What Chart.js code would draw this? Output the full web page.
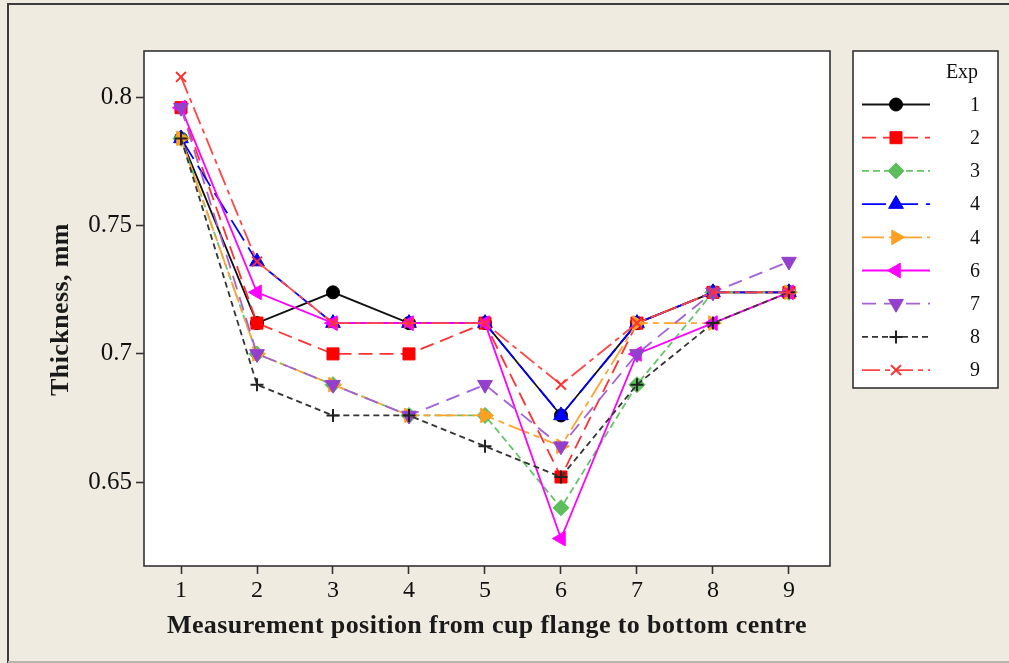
<!DOCTYPE html>
<html>
<head>
<meta charset="utf-8">
<title>Thickness by measurement position</title>
<script src="https://cdn.jsdelivr.net/npm/chart.js@4.4.1/dist/chart.umd.min.js"></script>
<style>
  html, body { margin: 0; padding: 0; background: #EFEBE1; }
  canvas { display: block; }
</style>
</head>
<body>
<canvas id="chart" width="1009" height="663"></canvas>
<script>
// Measurement positions (flange -> bottom centre)
const positions = [1, 2, 3, 4, 5, 6, 7, 8, 9];

// Y axis ticks and their printed labels
const yTickValues = [0.65, 0.70, 0.75, 0.80];
const yTickLabels = ['0.65', '0.7', '0.75', '0.8'];

// Legend labels of the experiments
const expLabels = ['1', '2', '3', '4', '4', '6', '7', '8', '9'];

// Wall thickness (mm) per experiment
const exp1  = [0.784, 0.712, 0.724, 0.712, 0.712, 0.676, 0.712, 0.724, 0.724];
const exp2  = [0.796, 0.712, 0.700, 0.700, 0.712, 0.652, 0.712, 0.724, 0.724];
const exp3  = [0.784, 0.700, 0.688, 0.676, 0.676, 0.640, 0.688, 0.724, 0.724];
const exp4a = [0.784, 0.736, 0.712, 0.712, 0.712, 0.676, 0.712, 0.724, 0.724];
const exp4b = [0.784, 0.700, 0.688, 0.676, 0.676, 0.664, 0.712, 0.712, 0.724];
const exp6  = [0.796, 0.724, 0.712, 0.712, 0.712, 0.628, 0.700, 0.712, 0.724];
const exp7  = [0.796, 0.700, 0.688, 0.676, 0.688, 0.664, 0.700, 0.724, 0.736];
const exp8  = [0.784, 0.688, 0.676, 0.676, 0.664, 0.652, 0.688, 0.712, 0.724];
const exp9  = [0.808, 0.736, 0.712, 0.712, 0.712, 0.688, 0.712, 0.724, 0.724];

const seriesValues = [exp1, exp2, exp3, exp4a, exp4b, exp6, exp7, exp8, exp9];

// Line / symbol style of each experiment
const seriesStyles = [
  { line: '#111111', fill: '#000000', dash: [],            point: 'circle',   radius: 6.5, rotation: 0 },
  { line: '#FF3030', fill: '#FF0000', dash: [14, 7],       point: 'rect',     radius: 8.5, rotation: 0 },
  { line: '#66C466', fill: '#5CBF5C', dash: [7, 4],        point: 'rectRot',  radius: 8,   rotation: 0 },
  { line: '#0000FF', fill: '#0000FF', dash: [24, 8],       point: 'triangle', radius: 8.5, rotation: 0 },
  { line: '#FFA431', fill: '#FFA020', dash: [22, 5, 6, 5], point: 'triangle', radius: 8.5, rotation: 90 },
  { line: '#FF00FF', fill: '#FF00FF', dash: [],            point: 'triangle', radius: 8.5, rotation: 270 },
  { line: '#A461D6', fill: '#9440CC', dash: [14, 8],       point: 'triangle', radius: 8.5, rotation: 180 },
  { line: '#333333', fill: '#222222', dash: [6, 4],        point: 'cross',    radius: 6.5, rotation: 0 },
  { line: '#FF4545', fill: '#FF3030', dash: [18, 5, 5, 5], point: 'crossRot', radius: 7,   rotation: 0 }
];

const datasets = seriesValues.map((vals, i) => {
  const s = seriesStyles[i];
  const isCross = s.point === 'cross' || s.point === 'crossRot';
  return {
    label: expLabels[i],
    data: vals.map((v, k) => ({ x: positions[k], y: v })),
    borderColor: s.line,
    borderWidth: 1.8,
    borderDash: s.dash,
    backgroundColor: s.fill,
    pointStyle: s.point,
    pointRadius: s.radius,
    pointRotation: s.rotation,
    pointBackgroundColor: s.fill,
    pointBorderColor: s.fill,
    pointBorderWidth: isCross ? 2 : 1,
    fill: false,
    tension: 0,
    order: seriesValues.length - 1 - i   // later experiments drawn on top
  };
});

const serif = '"Liberation Serif", "Times New Roman", serif';
const FRAME = '#333333';

// Backgrounds, outer frame, plot border, custom legend and axis titles
const decorations = {
  id: 'decorations',
  beforeDraw(chart) {
    const { ctx, chartArea: a, width, height } = chart;
    ctx.save();
    ctx.fillStyle = '#EFEBE1';
    ctx.fillRect(0, 0, width, height);
    ctx.fillStyle = '#FFFFFF';
    ctx.fillRect(a.left, a.top, a.right - a.left, a.bottom - a.top);
    // outer frame
    ctx.strokeStyle = '#3C3C3C';
    ctx.lineWidth = 2;
    ctx.beginPath();
    ctx.moveTo(8, height);
    ctx.lineTo(8, 4);
    ctx.lineTo(width, 4);
    ctx.stroke();
    ctx.strokeStyle = '#B9B5AD';
    ctx.beginPath();
    ctx.moveTo(8, 662);
    ctx.lineTo(width, 662);
    ctx.stroke();
    ctx.restore();
  },
  afterDraw(chart) {
    const { ctx, chartArea: a } = chart;
    ctx.save();
    // plot border
    ctx.strokeStyle = FRAME;
    ctx.lineWidth = 1.6;
    ctx.strokeRect(a.left, a.top, a.right - a.left, a.bottom - a.top);

    // axis titles
    ctx.fillStyle = '#1A1A1A';
    ctx.font = 'bold 26px ' + serif;
    if ('letterSpacing' in ctx) ctx.letterSpacing = '0.4px';
    ctx.textAlign = 'center';
    ctx.textBaseline = 'alphabetic';
    ctx.fillText('Measurement position from cup flange to bottom centre', (a.left + a.right) / 2, 633);
    ctx.save();
    ctx.translate(68, (a.top + a.bottom) / 2 + 1);
    ctx.rotate(-Math.PI / 2);
    ctx.fillText('Thickness, mm', 0, 0);
    ctx.restore();
    if ('letterSpacing' in ctx) ctx.letterSpacing = '0px';

    // legend box
    const L = { left: 853, top: 51, right: 998, bottom: 388 };
    ctx.fillStyle = '#FFFFFF';
    ctx.fillRect(L.left, L.top, L.right - L.left, L.bottom - L.top);
    ctx.strokeStyle = FRAME;
    ctx.lineWidth = 1.6;
    ctx.strokeRect(L.left, L.top, L.right - L.left, L.bottom - L.top);

    ctx.fillStyle = '#111111';
    ctx.font = '20px ' + serif;
    ctx.textAlign = 'center';
    ctx.textBaseline = 'middle';
    ctx.fillText('Exp', 962, 73);

    chart.data.datasets.forEach((ds, i) => {
      const y = 104.5 + i * 33.2;
      ctx.save();
      ctx.strokeStyle = ds.borderColor;
      ctx.lineWidth = ds.borderWidth;
      ctx.setLineDash(ds.borderDash);
      ctx.beginPath();
      ctx.moveTo(862, y);
      ctx.lineTo(930, y);
      ctx.stroke();
      ctx.setLineDash([]);
      ctx.fillStyle = ds.pointBackgroundColor;
      ctx.strokeStyle = ds.pointBorderColor;
      ctx.lineWidth = ds.pointBorderWidth;
      Chart.helpers.drawPoint(ctx, {
        pointStyle: ds.pointStyle,
        rotation: ds.pointRotation,
        radius: ds.pointRadius,
        borderWidth: ds.pointBorderWidth
      }, 896, y);
      ctx.restore();
      ctx.fillStyle = '#111111';
      ctx.font = '20px ' + serif;
      ctx.textAlign = 'center';
      ctx.textBaseline = 'middle';
      ctx.fillText(ds.label, 975, y + 1);
    });
    ctx.restore();
  }
};

new Chart(document.getElementById('chart'), {
  type: 'line',
  data: { datasets },
  options: {
    responsive: false,
    animation: false,
    devicePixelRatio: 1,
    layout: { padding: { left: 20, top: 51, right: 179, bottom: 0 } },
    plugins: {
      legend: { display: false },
      tooltip: { enabled: false },
      title: { display: false }
    },
    scales: {
      x: {
        type: 'linear',
        min: 0.513,
        max: 9.54,
        afterBuildTicks(scale) { scale.ticks = positions.map(v => ({ value: v })); },
        afterFit(scale) { scale.height = 97; },
        border: { display: false },
        grid: { drawOnChartArea: false, drawTicks: true, tickLength: 8, tickWidth: 1.6, tickColor: FRAME },
        ticks: {
          autoSkip: false,
          maxRotation: 0,
          padding: 2,
          color: '#111111',
          font: { family: serif, size: 24 },
          callback: v => String(v)
        }
      },
      y: {
        type: 'linear',
        min: 0.6173,
        max: 0.8181,
        afterBuildTicks(scale) { scale.ticks = yTickValues.map(v => ({ value: v })); },
        afterFit(scale) { scale.width = 124; },
        border: { display: false },
        grid: { drawOnChartArea: false, drawTicks: true, tickLength: 8, tickWidth: 1.6, tickColor: FRAME },
        ticks: {
          padding: 4,
          color: '#111111',
          font: { family: serif, size: 25 },
          callback: v => yTickLabels[yTickValues.findIndex(t => Math.abs(t - v) < 1e-9)]
        }
      }
    }
  },
  plugins: [decorations]
});
</script>
</body>
</html>
